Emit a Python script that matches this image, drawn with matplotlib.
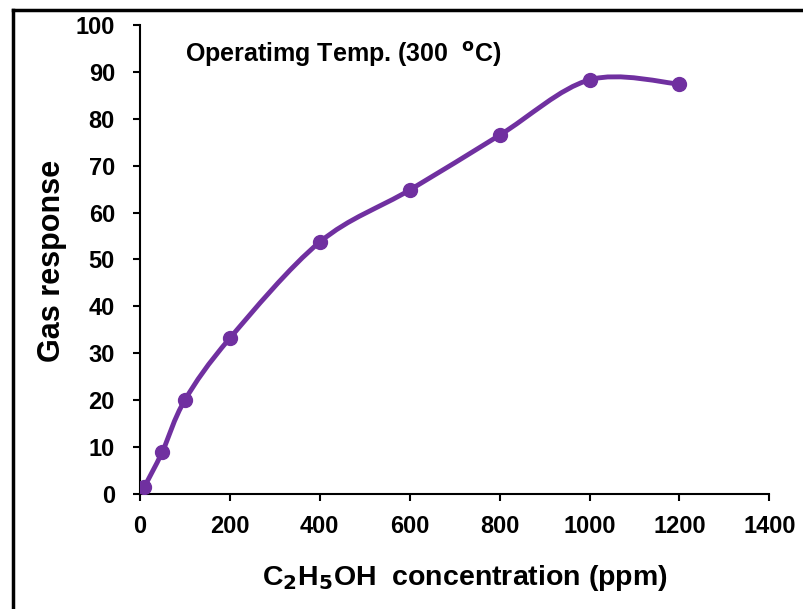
import numpy as np
import matplotlib.pyplot as plt
from matplotlib.path import Path
from matplotlib.patches import PathPatch
from matplotlib.lines import Line2D

plt.rcParams['font.family'] = ['Liberation Sans', 'DejaVu Sans']
plt.rcParams['mathtext.default'] = 'bf'

# data
conc = [10, 50, 100, 200, 400, 600, 800, 1000, 1200]
response = [1.5, 9, 20, 33.2, 53.7, 64.8, 76.5, 88.3, 87.4]
xticks = [0, 200, 400, 600, 800, 1000, 1200, 1400]
yticks = [0, 10, 20, 30, 40, 50, 60, 70, 80, 90, 100]

purple = '#7030A0'


def smooth_path(x, y):
    # Excel-style smoothed line: cubic Bezier segments through each point
    pts = np.column_stack([x, y]).astype(float)
    n = len(pts)
    verts = [pts[0]]
    codes = [Path.MOVETO]
    for i in range(n - 1):
        p_prev = pts[max(i - 1, 0)]
        p0 = pts[i]
        p1 = pts[i + 1]
        p_next = pts[min(i + 2, n - 1)]
        c1 = p0 + (p1 - p_prev) / 6
        c2 = p1 - (p_next - p0) / 6
        verts += [c1, c2, p1]
        codes += [Path.CURVE4] * 3
    return Path(verts, codes)


fig = plt.figure(figsize=(8.04, 6.09), dpi=100)
ax = fig.add_axes([0.174, 0.189, 0.783, 0.770])

ax.add_patch(PathPatch(smooth_path(conc, response), facecolor='none',
                       edgecolor=purple, lw=3.5, capstyle='round', zorder=3))
ax.plot(conc, response, 'o', color=purple, ms=10, zorder=4)

ax.set_xlim(0, 1400)
ax.set_ylim(0, 100)
ax.set_xticks(xticks)
ax.set_yticks(yticks)
ax.spines['top'].set_visible(False)
ax.spines['right'].set_visible(False)
for s in ['left', 'bottom']:
    ax.spines[s].set_linewidth(1.5)
ax.tick_params(axis='both', direction='out', length=5, width=1.5, labelsize=17)
ax.tick_params(axis='y', pad=13)
ax.tick_params(axis='x', pad=10)
for lbl in ax.get_xticklabels() + ax.get_yticklabels():
    lbl.set_fontweight('bold')

ax.set_xlabel(r'C$_\mathbf{2}$H$_\mathbf{5}$OH  concentration (ppm)',
              fontsize=20.5, fontweight='bold', va='center')
ax.xaxis.set_label_coords(0.517, -0.179)
ax.set_ylabel('Gas response', fontsize=22, fontweight='bold', va='center')
ax.yaxis.set_label_coords(-0.140, 0.497)
ax.text(0.071, 0.938, r'Operatimg Temp. (300  $^\mathbf{o}$C)', transform=ax.transAxes,
        fontsize=18, fontweight='bold', va='center', ha='left')

# outer frame of the original figure (left and top edges visible)
fig.add_artist(Line2D([0.016, 0.016], [0, 0.984], transform=fig.transFigure,
                      color='black', lw=2.5))
fig.add_artist(Line2D([0.016, 1], [0.984, 0.984], transform=fig.transFigure,
                      color='black', lw=2.5))

fig.savefig('out.png', dpi=100)
